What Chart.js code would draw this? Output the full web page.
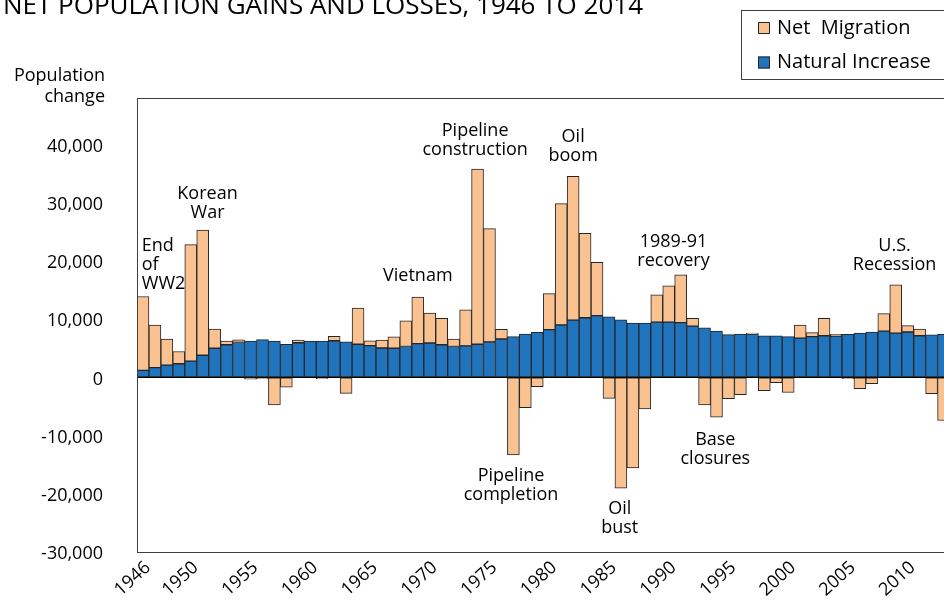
<!DOCTYPE html>
<html>
<head>
  <meta charset="utf-8">
  <title>Net Population Gains and Losses, 1946 to 2014</title>
  <script src="https://cdn.jsdelivr.net/npm/chart.js"></script>
  <style>
    html, body {
      margin: 0;
      padding: 0;
      overflow: hidden;
      background: #fff;
    }
    canvas {
      display: block;
    }
  </style>
</head>
<body>
  <canvas id="popChart" width="975" height="600"></canvas>

  <script>
    // data (people per year)
    const years = [
      1946, 1947, 1948, 1949, 1950, 1951, 1952, 1953, 1954, 1955,
      1956, 1957, 1958, 1959, 1960, 1961, 1962, 1963, 1964, 1965,
      1966, 1967, 1968, 1969, 1970, 1971, 1972, 1973, 1974, 1975,
      1976, 1977, 1978, 1979, 1980, 1981, 1982, 1983, 1984, 1985,
      1986, 1987, 1988, 1989, 1990, 1991, 1992, 1993, 1994, 1995,
      1996, 1997, 1998, 1999, 2000, 2001, 2002, 2003, 2004, 2005,
      2006, 2007, 2008, 2009, 2010, 2011, 2012, 2013, 2014
    ];
    const naturalIncrease = [
      1200, 1670, 2100, 2350, 2800, 3800, 5000, 5600, 6000, 6250,
      6500, 6250, 5700, 5950, 6250, 6250, 6300, 6100, 5700, 5450,
      5050, 5000, 5300, 5800, 5900, 5600, 5300, 5400, 5700, 6100,
      6600, 7000, 7450, 7750, 8200, 9000, 9850, 10250, 10600, 10400,
      9900, 9350, 9350, 9500, 9500, 9400, 8800, 8500, 7950, 7350,
      7450, 7450, 7150, 7150, 7000, 6750, 7000, 7150, 7100, 7400,
      7600, 7800, 7950, 7600, 7800, 7150, 7300, 7400, 7500
    ];
    const netMigration = [
      12700, 7300, 4500, 2100, 20000, 21500, 3300, 650, 450, -300,
      -200, -4750, -1700, 450, 0, -200, 750, -2750, 6200, 850,
      1350, 1950, 4400, 8000, 5150, 4550, 1300, 6200, 30100, 19450,
      1650, -13300, -5200, -1600, 6200, 20850, 24700, 14500, 9150, -3600,
      -19050, -15550, -5400, 4700, 6250, 8200, 1350, -4750, -6850, -3650,
      -2950, 150, -2300, -900, -2600, 2250, 700, 3000, 300, -200,
      -1950, -1100, 3000, 8300, 1100, 1150, -2800, -7400, -5000
    ];
    const labeledYears = [1946, 1950, 1955, 1960, 1965, 1970, 1975, 1980, 1985, 1990, 1995, 2000, 2005, 2010];
    const yTicks = [-30000, -20000, -10000, 0, 10000, 20000, 30000, 40000];

    // event notes, anchored by year index and value
    const notes = [
      { lines: ['End', 'of', 'WW2'], at: -0.1, value: 22600, align: 'left' },
      { lines: ['Korean', 'War'], at: 5.4, value: 31600 },
      { lines: ['Vietnam'], at: 23.0, value: 17400 },
      { lines: ['Pipeline', 'construction'], at: 27.8, value: 42300 },
      { lines: ['Oil', 'boom'], at: 36.0, value: 41400 },
      { lines: ['1989-91', 'recovery'], at: 44.4, value: 23300 },
      { lines: ['U.S.', 'Recession'], at: 62.9, value: 22600 },
      { lines: ['Pipeline', 'completion'], at: 30.8, value: -16900 },
      { lines: ['Oil', 'bust'], at: 39.9, value: -22600 },
      { lines: ['Base', 'closures'], at: 47.9, value: -10700 }
    ];

    const FONT = "'Open Sans', sans-serif";
    Chart.defaults.font.family = FONT;
    Chart.defaults.color = '#000';

    // title, axis caption, boxed legend, notes and plot frame
    const decorations = {
      id: 'decorations',
      afterDraw(chart) {
        const ctx = chart.ctx;
        const area = chart.chartArea;
        const xs = chart.scales.x;
        const ys = chart.scales.y;
        ctx.save();

        // plot frame
        ctx.strokeStyle = '#404040';
        ctx.lineWidth = 1;
        ctx.strokeRect(area.left + 0.5, area.top + 0.5, area.right - area.left, area.bottom - area.top);

        ctx.fillStyle = '#000';
        ctx.font = '26px ' + FONT;
        ctx.textAlign = 'right';
        ctx.textBaseline = 'alphabetic';
        ctx.fillText('NET POPULATION GAINS AND LOSSES, 1946 TO 2014', 643, 14);

        ctx.font = '18px ' + FONT;
        ctx.textBaseline = 'middle';
        ctx.fillText('Population', 105, 75.5);
        ctx.fillText('change', 105, 97);

        // notes
        notes.forEach(n => {
          const x = xs.getPixelForValue(n.at);
          const y = ys.getPixelForValue(n.value);
          ctx.textAlign = n.align || 'center';
          n.lines.forEach((line, i) => ctx.fillText(line, x, y + i * 19));
        });

        // legend box
        ctx.strokeStyle = '#404040';
        ctx.strokeRect(741.5, 10.5, 225, 69);
        const order = [1, 0];
        ctx.font = '20px ' + FONT;
        ctx.textAlign = 'left';
        order.forEach((di, row) => {
          const ds = chart.data.datasets[di];
          const cy = 28 + row * 34.5;
          ctx.fillStyle = ds.backgroundColor;
          ctx.fillRect(758, cy - 6, 12, 12);
          ctx.strokeStyle = '#262626';
          ctx.strokeRect(758.5, cy - 5.5, 11, 11);
          ctx.fillStyle = '#000';
          ctx.fillText(ds.label, 777, cy);
        });
        ctx.restore();
      }
    };

    const ctx = document.getElementById('popChart').getContext('2d');
    const chart = new Chart(ctx, {
      type: 'bar',
      data: {
        labels: years,
        datasets: [
          {
            label: 'Natural Increase',
            data: naturalIncrease,
            backgroundColor: '#1F74BD',
            borderColor: '#262626',
            borderWidth: 1,
            borderSkipped: false,
            categoryPercentage: 1,
            barPercentage: 1
          },
          {
            label: 'Net  Migration',
            data: netMigration,
            backgroundColor: '#F9C290',
            borderColor: '#262626',
            borderWidth: 1,
            borderSkipped: false,
            categoryPercentage: 1,
            barPercentage: 1
          }
        ]
      },
      options: {
        responsive: false,
        animation: false,
        layout: {
          padding: { top: 98, right: 8, left: 0, bottom: 0 }
        },
        plugins: {
          legend: { display: false },
          tooltip: { enabled: false }
        },
        scales: {
          x: {
            stacked: true,
            grid: { display: false, drawTicks: false },
            border: { display: false },
            ticks: {
              autoSkip: false,
              minRotation: 42,
              maxRotation: 42,
              padding: 5,
              labelOffset: 5,
              font: { size: 18 },
              callback: (v, i) => labeledYears.includes(years[i]) ? String(years[i]) : ''
            },
            afterFit: s => { s.height = 48; }
          },
          y: {
            stacked: true,
            min: -30000,
            max: 48000,
            grid: {
              drawTicks: false,
              color: c => c.tick && c.tick.value === 0 ? '#000' : 'rgba(0,0,0,0)',
              lineWidth: 1
            },
            border: { display: false },
            ticks: {
              stepSize: 10000,
              padding: 34,
              labelOffset: 2,
              font: { size: 18 },
              callback: v => v.toLocaleString('en-US')
            },
            afterBuildTicks: s => { s.ticks = yTicks.map(v => ({ value: v })); },
            afterFit: s => { s.width = 137; }
          }
        }
      },
      plugins: [decorations]
    });
  </script>
</body>
</html>
